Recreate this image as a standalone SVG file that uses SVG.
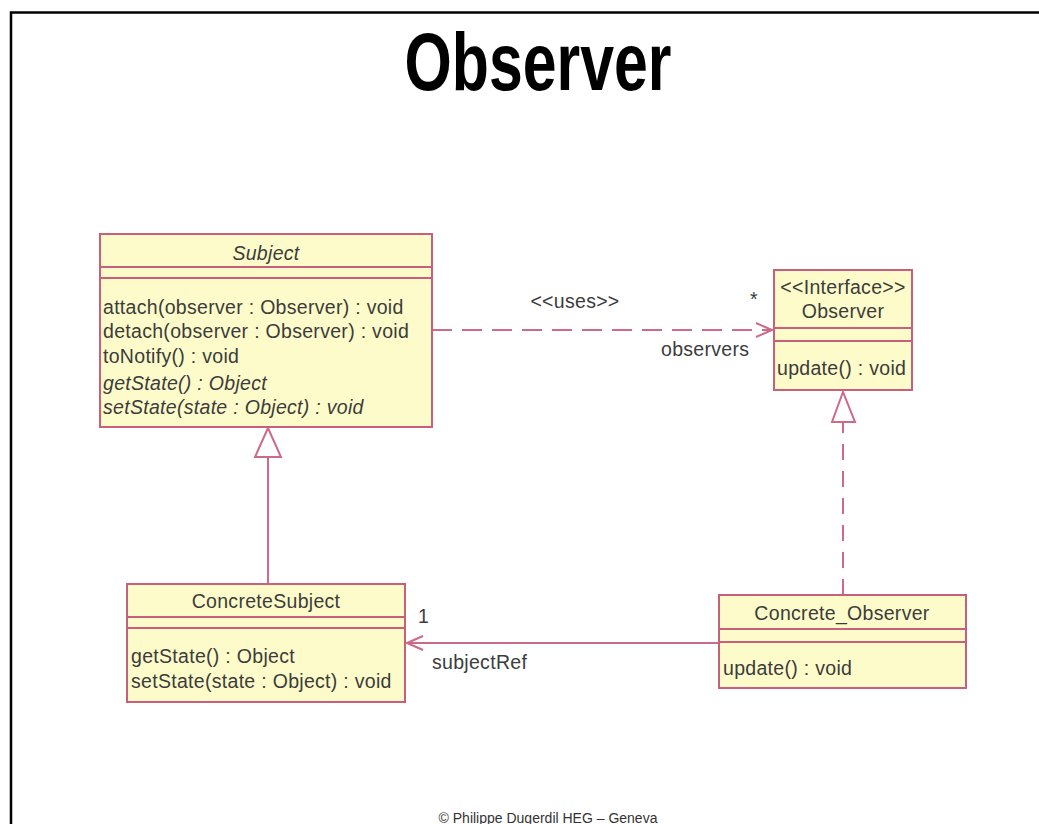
<svg xmlns="http://www.w3.org/2000/svg" width="1039" height="824" viewBox="0 0 1039 824">
  <style>
    .box { fill: #fdfbca; stroke: #c85f7d; stroke-width: 2; }
    .sep { stroke: #c85f7d; stroke-width: 2; }
    .t { font-family: "Liberation Sans", Arial, sans-serif; font-size: 19.5px; letter-spacing: 0.3px; fill: #3c3c3c; }
    .c { text-anchor: middle; }
    .i { font-style: italic; }
    .edge { fill: none; stroke: #cc6a88; stroke-width: 2; }
    .dash { stroke-dasharray: 20 10; }
    .vdash { stroke-dasharray: 16 11; }
  </style>
  <defs>
    <marker id="open" markerWidth="20" markerHeight="20" refX="18" refY="8" orient="auto" markerUnits="userSpaceOnUse">
      <path d="M2,1 L18,8 L2,15" fill="none" stroke="#cc6a88" stroke-width="2"/>
    </marker>
  </defs>

  <rect width="1039" height="824" fill="#ffffff"/>

  <!-- page frame -->
  <path d="M11,826 L11,12.5 L1045,12.5" fill="none" stroke="#000" stroke-width="2.5"/>

  <!-- title -->
  <text x="538" y="90" text-anchor="middle" font-family="'Liberation Sans', Arial, sans-serif" font-weight="bold" font-size="82" textLength="267" lengthAdjust="spacingAndGlyphs" fill="#000">Observer</text>

  <!-- connectors -->
  <g id="connectors">
    <!-- Subject uses Observer -->
    <line class="edge dash" x1="432" y1="330" x2="772" y2="330" marker-end="url(#open)"/>
    <!-- ConcreteSubject extends Subject -->
    <line class="edge" x1="268" y1="584" x2="268" y2="457"/>
    <polygon points="268,428 255,457 281,457" fill="#fff" stroke="#cc6a88" stroke-width="2"/>
    <!-- Concrete_Observer implements Observer -->
    <line class="edge vdash" x1="843" y1="595" x2="843" y2="422"/>
    <polygon points="843,392 832,422 855,422" fill="#fff" stroke="#cc6a88" stroke-width="2"/>
    <!-- Concrete_Observer references ConcreteSubject -->
    <line class="edge" x1="719" y1="643" x2="407" y2="643" marker-end="url(#open)"/>

    <text class="t c" x="575" y="308">&lt;&lt;uses&gt;&gt;</text>
    <text class="t" x="750" y="306">*</text>
    <text class="t" x="661" y="356">observers</text>
    <text class="t" x="418" y="623">1</text>
    <text class="t" x="432" y="669">subjectRef</text>
  </g>

  <!-- Subject -->
  <g id="subject">
    <rect class="box" x="100" y="234" width="332" height="193"/>
    <line class="sep" x1="100" y1="267" x2="432" y2="267"/>
    <line class="sep" x1="100" y1="278" x2="432" y2="278"/>
    <text class="t c i" x="266" y="260">Subject</text>
    <text class="t" x="103" y="314">attach(observer : Observer) : void</text>
    <text class="t" x="103" y="338">detach(observer : Observer) : void</text>
    <text class="t" x="103" y="363">toNotify() : void</text>
    <text class="t i" x="103" y="390">getState() : Object</text>
    <text class="t i" x="103" y="414">setState(state : Object) : void</text>
  </g>

  <!-- Observer interface -->
  <g id="observer">
    <rect class="box" x="774" y="270" width="138" height="120"/>
    <line class="sep" x1="774" y1="328" x2="912" y2="328"/>
    <line class="sep" x1="774" y1="341" x2="912" y2="341"/>
    <text class="t c" x="843" y="294">&lt;&lt;Interface&gt;&gt;</text>
    <text class="t c" x="843" y="318">Observer</text>
    <text class="t" x="777" y="375">update() : void</text>
  </g>

  <!-- ConcreteSubject -->
  <g id="concrete-subject">
    <rect class="box" x="127" y="584" width="278" height="118"/>
    <line class="sep" x1="127" y1="617" x2="405" y2="617"/>
    <line class="sep" x1="127" y1="628" x2="405" y2="628"/>
    <text class="t c" x="266" y="608">ConcreteSubject</text>
    <text class="t" x="131" y="663">getState() : Object</text>
    <text class="t" x="131" y="688">setState(state : Object) : void</text>
  </g>

  <!-- Concrete_Observer -->
  <g id="concrete-observer">
    <rect class="box" x="719" y="595" width="247" height="93"/>
    <line class="sep" x1="719" y1="629" x2="966" y2="629"/>
    <line class="sep" x1="719" y1="642" x2="966" y2="642"/>
    <text class="t c" x="842" y="620">Concrete_Observer</text>
    <text class="t" x="723" y="675">update() : void</text>
  </g>

  <!-- footer -->
  <text x="548" y="823" text-anchor="middle" font-family="'Liberation Sans', Arial, sans-serif" font-size="14" fill="#333">© Philippe Dugerdil HEG – Geneva</text>
</svg>
